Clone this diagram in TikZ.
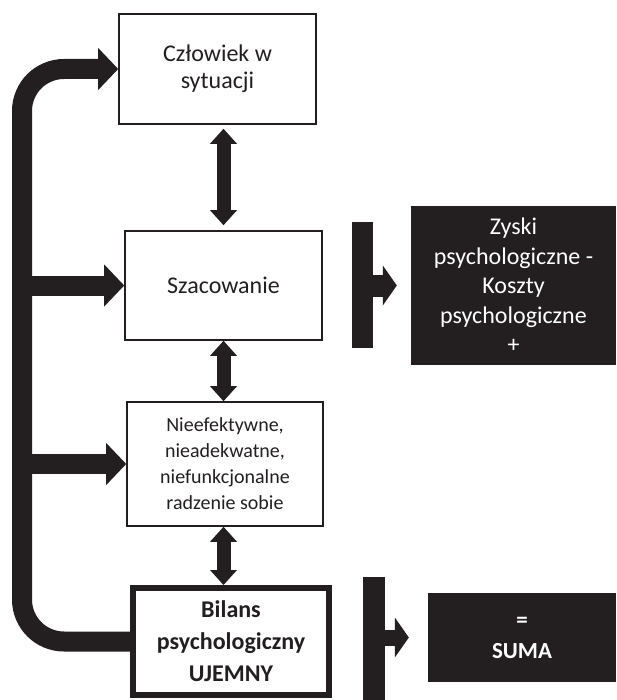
\documentclass[tikz,border=0pt]{standalone}
\usepackage{fontspec}
\setmainfont{Carlito}
\usetikzlibrary{arrows.meta}
\definecolor{ink}{HTML}{231F20}

\begin{document}
\begin{tikzpicture}[x=1pt, y=-1pt,
  box/.style={draw=ink, line width=1.6pt, align=center, text=ink, inner sep=0pt},
  sumbox/.style={fill=ink, text=white, align=center, inner sep=0pt},
  fat/.style={ink, line width=20pt, arrows={-Triangle[width=42pt,length=20pt,line width=0pt]}},
  stub/.style={ink, line width=22pt, arrows={-Triangle[width=40pt,length=14pt,line width=0pt]}},
  dbl/.style={ink, line width=14pt, arrows={Triangle[width=27pt,length=15pt,line width=0pt]-Triangle[width=27pt,length=15pt,line width=0pt]}}]
  \useasboundingbox (0,0) rectangle (616,700);
  % main column
  \node[box, minimum width=197pt, minimum height=110pt, font=\fontsize{24}{27}\selectfont] (czlowiek) at (217.5,69) {Człowiek w\\sytuacji};
  \node[box, minimum width=197pt, minimum height=109pt, font=\fontsize{24}{28}\selectfont] (szacowanie) at (223.5,285.5) {Szacowanie};
  \node[box, minimum width=196pt, minimum height=124pt, font=\fontsize{20}{26}\selectfont] (radzenie) at (225,464) {Nieefektywne,\\nieadekwatne,\\niefunkcjonalne\\radzenie sobie};
  \node[box, line width=6pt, minimum width=196pt, minimum height=107pt, font=\bfseries\fontsize{24}{32}\selectfont] (bilans) at (231,641.5) {Bilans\\psychologiczny\\UJEMNY};
  % arrows between boxes
  \draw[dbl, shorten <=4pt, shorten >=5pt] (szacowanie.north |- czlowiek.south) -- (szacowanie.north);
  \draw[dbl] (szacowanie.south) -- (szacowanie.south |- radzenie.north);
  \draw[dbl] (szacowanie.south |- radzenie.south) -- (szacowanie.south |- bilans.north);
  % feedback loop on the left
  \coordinate (rail) at (22,0);
  \draw[fat, rounded corners=42pt] (bilans.west) -| (rail |- czlowiek.west) -- (czlowiek.west);
  \draw[fat] (rail |- szacowanie.west) -- (szacowanie.west);
  \draw[fat] (rail |- radzenie.west) -- (radzenie.west);
  % right column
  \node[sumbox, minimum width=205pt, minimum height=159pt, font=\fontsize{24}{29.5}\selectfont] (zyski) at (513.5,285.5) {Zyski\\psychologiczne -\\Koszty\\psychologiczne\\+};
  \node[sumbox, minimum width=188pt, minimum height=89pt, font=\bfseries\fontsize{23}{31}\selectfont] (suma) at (522,637.5) {=\\SUMA};
  \coordinate (barA) at (362.5,222);
  \coordinate (barB) at (374,577);
  \draw[ink, line width=21pt] (barA) -- ++(0,126);
  \draw[ink, line width=22pt] (barB) -- ++(0,123);
  \draw[stub, shorten >=14pt] (barA |- zyski.west) -- (zyski.west);
  \draw[stub, line width=16pt, shorten >=19pt] (barB |- suma.west) -- (suma.west);
\end{tikzpicture}
\end{document}
